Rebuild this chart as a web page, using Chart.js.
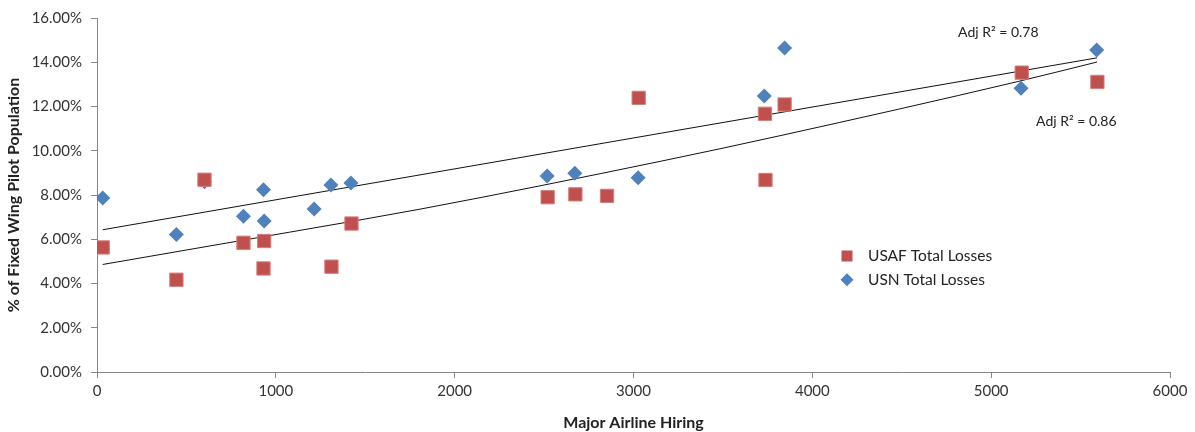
<!DOCTYPE html>
<html>
<head>
<meta charset="utf-8">
<script src="https://cdn.jsdelivr.net/npm/chart.js@4.4.1/dist/chart.umd.min.js"></script>
<style>
  html, body { margin: 0; padding: 0; background: #fff; }
  #wrap { width: 1195px; height: 432px; position: relative; }
</style>
</head>
<body>
<div id="wrap"><canvas id="grafico"></canvas></div>
<script>
// data (x = major airline hiring, y = % of fixed wing pilots)
const usafHiring = [32, 444, 601, 819, 931, 935, 1311, 1423, 2520, 2675, 2852, 3029, 3735, 3738, 3845, 5171, 5594];
const usafLosses = [5.63, 4.17, 8.69, 5.84, 4.68, 5.92, 4.76, 6.71, 7.90, 8.03, 7.96, 12.39, 11.67, 8.68, 12.09, 13.53, 13.11];

const usnHiring = [32, 444, 601, 819, 931, 935, 1214, 1308, 1420, 2517, 2672, 3026, 3731, 3845, 5167, 5590];
const usnLosses = [7.87, 6.22, 8.60, 7.04, 8.24, 6.82, 7.37, 8.45, 8.54, 8.86, 8.98, 8.78, 12.48, 14.64, 12.82, 14.55];

// trend lines as drawn (upper one straight, lower one slightly curved)
const upperTrendHiring = [32, 5592];
const upperTrend = [6.43, 14.20];
const lowerTrendHiring = [32, 1077, 1806, 3149, 3819, 5145, 5592];
const lowerTrend = [4.86, 6.32, 7.36, 9.52, 10.68, 13.12, 14.01];

const r2Labels = ['Adj R\u00B2 = 0.78', 'Adj R\u00B2 = 0.86'];
const legendLabels = ['USAF Total Losses', 'USN Total Losses'];

const RED = '#C0504D';
const BLUE = '#4F81BD';
const FONT = 'Lato, "Open Sans", sans-serif';

function pontos(xs, ys) {
  return xs.map((x, i) => ({ x: x, y: ys[i] }));
}

// textos R² e legenda desenhados no canvas
const extras = {
  id: 'extras',
  afterDraw(chart) {
    const ctx = chart.ctx;
    const sx = chart.scales.x, sy = chart.scales.y;
    ctx.save();
    ctx.fillStyle = '#222';
    ctx.font = '14px ' + FONT;
    ctx.textBaseline = 'middle';
    ctx.textAlign = 'left';
    ctx.fillText(r2Labels[0], sx.getPixelForValue(4815), sy.getPixelForValue(15.36));
    ctx.fillText(r2Labels[1], sx.getPixelForValue(5251), sy.getPixelForValue(11.32));

    // legenda
    const ca = chart.chartArea;
    const lx = ca.left + 750, ly = ca.top + 238;
    ctx.font = '15.5px ' + FONT;
    ctx.fillStyle = RED;
    ctx.fillRect(lx - 5.5, ly - 5.5, 11, 11);
    ctx.fillStyle = BLUE;
    ctx.beginPath();
    ctx.moveTo(lx, ly + 23.7 - 6.5);
    ctx.lineTo(lx + 6.5, ly + 23.7);
    ctx.lineTo(lx, ly + 23.7 + 6.5);
    ctx.lineTo(lx - 6.5, ly + 23.7);
    ctx.closePath();
    ctx.fill();
    ctx.fillStyle = '#222';
    ctx.fillText(legendLabels[0], lx + 21, ly);
    ctx.fillText(legendLabels[1], lx + 21, ly + 23.7);
    ctx.restore();
  }
};

window.addEventListener('DOMContentLoaded', function () {
  const canvas = document.getElementById('grafico');
  new Chart(canvas.getContext('2d'), {
    type: 'scatter',
    data: {
      datasets: [
        {
          label: 'upper trend',
          type: 'line',
          data: pontos(upperTrendHiring, upperTrend),
          borderColor: '#111',
          borderWidth: 1,
          pointRadius: 0,
          fill: false,
          order: 3
        },
        {
          label: 'lower trend',
          type: 'line',
          data: pontos(lowerTrendHiring, lowerTrend),
          borderColor: '#111',
          borderWidth: 1,
          pointRadius: 0,
          cubicInterpolationMode: 'monotone',
          fill: false,
          order: 3
        },
        {
          label: legendLabels[1],
          data: pontos(usnHiring, usnLosses),
          pointStyle: 'rectRot',
          pointRadius: 7.5,
          backgroundColor: BLUE,
          borderColor: BLUE,
          borderWidth: 0,
          order: 2
        },
        {
          label: legendLabels[0],
          data: pontos(usafHiring, usafLosses),
          pointStyle: 'rect',
          pointRadius: 9.4,
          backgroundColor: RED,
          borderColor: '#D27F7D',
          borderWidth: 1,
          order: 1
        }
      ]
    },
    options: {
      responsive: true,
      maintainAspectRatio: false,
      animation: false,
      layout: { padding: { top: 17, right: 25, left: 0, bottom: 0 } },
      plugins: {
        legend: { display: false },
        tooltip: { enabled: false }
      },
      scales: {
        x: {
          type: 'linear',
          min: 0,
          max: 6000,
          ticks: {
            stepSize: 1000,
            color: '#333',
            font: { family: FONT, size: 15 },
            padding: 4,
            maxRotation: 0,
            callback: v => String(v)
          },
          grid: { drawOnChartArea: false, tickLength: 6, color: '#868686' },
          border: { color: '#868686' },
          title: {
            display: true,
            text: 'Major Airline Hiring',
            color: '#222',
            font: { family: FONT, size: 16, weight: 'bold' },
            padding: { top: 3, bottom: 0 }
          },
          afterFit(scale) { scale.height = 60; }
        },
        y: {
          min: 0,
          max: 16,
          ticks: {
            stepSize: 2,
            color: '#333',
            font: { family: FONT, size: 15 },
            padding: 9,
            callback: v => v.toFixed(2) + '%'
          },
          grid: { drawOnChartArea: false, tickLength: 6, color: '#868686' },
          border: { color: '#868686' },
          title: {
            display: true,
            text: '% of Fixed Wing Pilot Population',
            color: '#222',
            font: { family: FONT, size: 16, weight: 'bold' },
            padding: { top: 4, bottom: 0 }
          },
          afterFit(scale) { scale.width = 97; }
        }
      }
    },
    plugins: [extras]
  });
});
</script>
</body>
</html>
